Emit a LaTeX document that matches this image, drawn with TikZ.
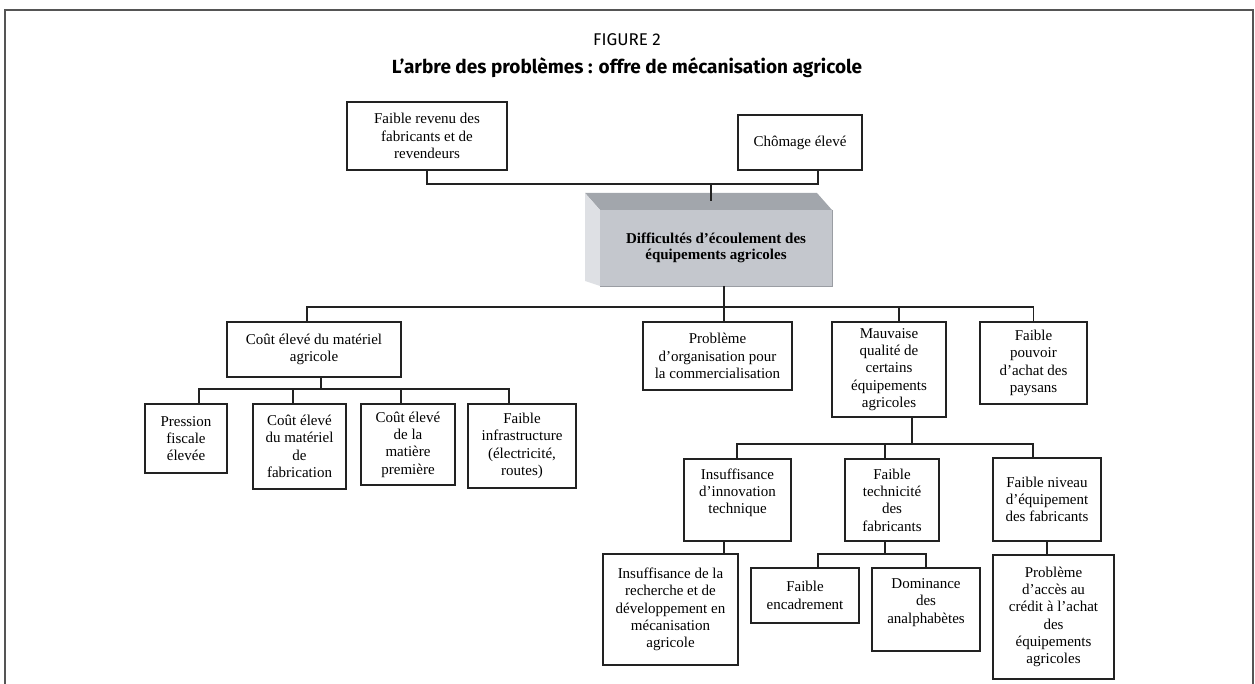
\documentclass[tikz,border=0pt]{standalone}
\usepackage{fontspec}
\setmainfont{Liberation Serif}
\newfontfamily\headfont{Fira Sans}
\usetikzlibrary{calc}

\definecolor{framegray}{HTML}{555555}
\definecolor{boxline}{HTML}{222222}
\definecolor{cubefront}{HTML}{C4C7CD}
\definecolor{cubetop}{HTML}{A2A6AC}
\definecolor{cubeside}{HTML}{DEE0E4}
\definecolor{cubeedge}{HTML}{9A9DA3}

\tikzset{
  box/.style={draw=boxline, line width=1.2pt, align=center, inner sep=0pt,
    font=\fontsize{15}{17.3}\selectfont},
  dim/.style 2 args={minimum width=#1pt, minimum height=#2pt},
  link/.style={draw=boxline, line width=1.2pt},
  cubetext/.style={align=center, inner sep=0pt,
    font=\bfseries\fontsize{15}{16.5}\selectfont},
}

\begin{document}
\begin{tikzpicture}[x=1pt,y=-1pt]
\useasboundingbox (0,0) rectangle (1255,684);

% outer frame, open at the bottom
\draw[framegray, line width=2.2pt] (5,684) -- (5,10) -- (1253,10) -- (1253,684);

% heading
\node[font=\headfont\fontsize{17}{20}\selectfont] (fig) at (627,40) {FIGURE 2};
\node[font=\headfont\bfseries\fontsize{19}{22}\selectfont] (ttl) at (627,68)
  {L’arbre des problèmes : offre de mécanisation agricole};

% consequences
\node[box, dim={160}{68}] (rev) at (427,136) {Faible revenu des\\fabricants et de\\revendeurs};
\node[box, dim={124}{55}] (cho) at (800,142.5) {Chômage élevé};

% central problem drawn as a block with depth
\fill[cubetop] (585,193) -- (817,193) -- (832,210) -- (600,210) -- cycle;
\fill[cubeside] (585,193) -- (600,210) -- (600,286) -- (585,281) -- cycle;
\node[cubetext, fill=cubefront, dim={232}{76}] (diff) at (716,248)
  {Difficultés d’écoulement des\\équipements agricoles};
\draw[cubeedge, line width=0.8pt] (diff.north east) -- (diff.south east) -- (diff.south west);
\coordinate (dtop) at (711,201);

% first level causes
\node[box, dim={174}{55}] (cout) at (314,349.5) {Coût élevé du matériel\\agricole};
\node[box, dim={149}{68}] (orga) at (717.5,356) {Problème\\d’organisation pour\\la commercialisation};
\node[box, dim={114}{95}] (mauv) at (889,369.5) {Mauvaise\\qualité de\\certains\\équipements\\agricoles};
\node[box, dim={107}{82}] (pouv) at (1033.5,363) {Faible\\pouvoir\\d’achat des\\paysans};

% causes of high cost
\node[box, dim={82}{69}] (pres) at (186,438.5) {Pression\\fiscale\\élevée};
\node[box, dim={93}{85}] (fabr) at (299.5,446.5) {Coût élevé\\du matériel\\de\\fabrication};
\node[box, dim={94}{81}] (mati) at (408,444.5) {Coût élevé\\de la\\matière\\première};
\node[box, dim={108}{84}] (infr) at (522,446) {Faible\\infrastructure\\(électricité,\\routes)};

% causes of poor quality
\node[box, dim={107}{82}] (inno) at (737.5,500) {Insuffisance\\d’innovation\\technique\\\mbox{}};
\node[box, dim={94}{82}] (tech) at (892,500) {Faible\\technicité\\des\\fabricants};
\node[box, dim={108}{83}] (nive) at (1047,499.5) {Faible niveau\\d’équipement\\des fabricants};

% deeper causes
\node[box, dim={135}{111}] (rech) at (670.5,609.5) {Insuffisance de la\\recherche et de\\développement en\\mécanisation\\agricole};
\node[box, dim={108}{55}] (enca) at (805,595.5) {Faible\\encadrement};
\node[box, dim={108}{83}] (domi) at (926,609.5) {Dominance\\des\\analphabètes\\\mbox{}};
\node[box, dim={121}{124}] (acce) at (1053.5,617) {Problème\\d’accès au\\crédit à l’achat\\des\\équipements\\agricoles};

% junction points of the tree
\coordinate (j0) at (711,184);
\coordinate (j1) at (724,307);
\coordinate (j2) at (321,389);
\coordinate (j3) at (912,444);
\coordinate (j4) at (885,554);

% connectors
\draw[link] (rev.south) |- (j0);
\draw[link] ([xshift=18pt]cho.south) |- (j0);
\draw[link] (j0) -- (dtop);

\draw[link] ([xshift=8pt]diff.south) -- (j1);
\draw[link] ([xshift=-7pt]cout.north) |- (j1);
\draw[link] ([xshift=6.5pt]orga.north) -- (j1);
\draw[link] ([xshift=10pt]mauv.north) |- (j1);
\draw[link] (pouv.north) |- (j1);

\draw[link] ([xshift=7pt]cout.south) -- (j2);
\draw[link] ([xshift=13pt]pres.north) |- (j2);
\draw[link] ([xshift=-6.5pt]fabr.north) |- (j2);
\draw[link] ([xshift=-7pt]mati.north) |- (j2);
\draw[link] ([xshift=-13pt]infr.north) |- (j2);

\draw[link] ([xshift=23pt]mauv.south) -- (j3);
\draw[link] ([xshift=-0.5pt]inno.north) |- (j3);
\draw[link] ([xshift=-7pt]tech.north) |- (j3);
\draw[link] ([xshift=-14pt]nive.north) |- (j3);

\draw[link] ([xshift=-13.5pt]inno.south) -- ([xshift=53.5pt]rech.north);
\draw[link] ([xshift=-7pt]tech.south) -- (j4);
\draw[link] ([xshift=13pt]enca.north) |- (j4);
\draw[link] (domi.north) |- (j4);
\draw[link] (nive.south) -- ([xshift=-6.5pt]acce.north);
\end{tikzpicture}
\end{document}
